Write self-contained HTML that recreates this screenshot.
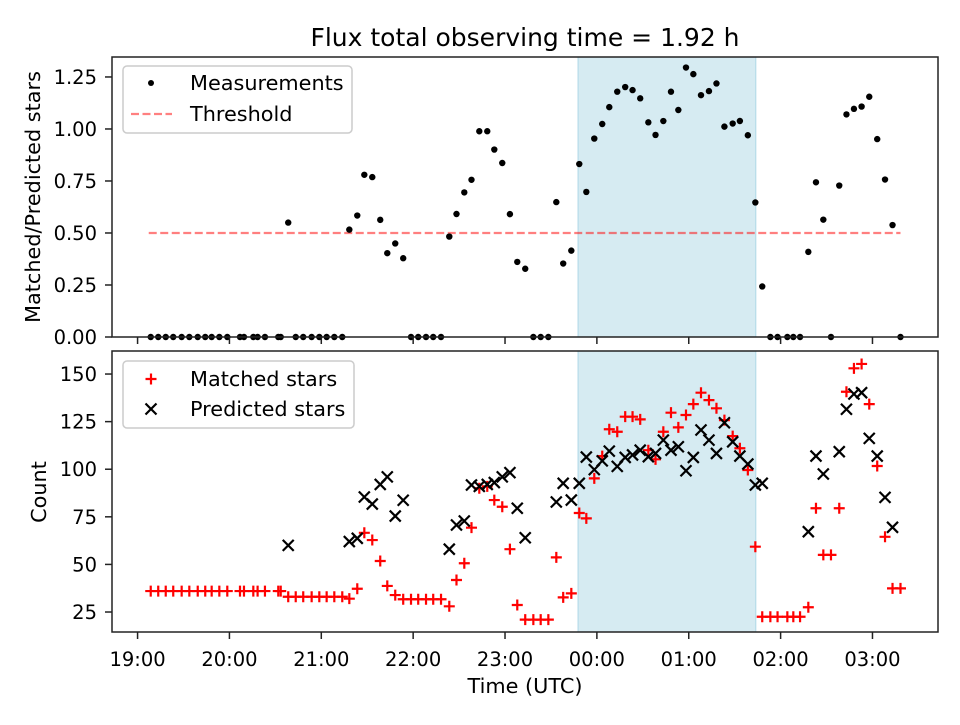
<!DOCTYPE html>
<html><head><meta charset="utf-8"><style>
body{margin:0;background:#fff}
svg text{font-family:"DejaVu Sans","Liberation Sans",sans-serif;fill:#000}
</style></head><body>
<svg id="c" width="960" height="720" xmlns="http://www.w3.org/2000/svg"></svg>
<script>
// minutes after 19:00
const times=[8.6,13.5,18.4,23.3,28.8,33.8,39.3,44.2,48.4,53.4,58.6,66.9,69.5,75.6,78.4,83.2,91.9,93.5,98.4,103.3,108.2,113.7,118.7,123.5,128.5,133.7,138.3,143.5,148.1,153.3,158.5,163.1,168.3,173.5,178.6,183.3,188.4,193.1,198.2,203.6,208.3,213.4,218.1,223.2,228.4,233,238.2,243.2,248,253.2,258.5,263.3,268.3,273.5,278,283.3,288.5,293.1,298.3,303.5,308.1,313.3,318.5,323.3,328.3,333.6,338.3,343.4,348.4,353.2,358.2,363,368,373.2,378.1,383.3,388.7,393.4,398.6,403.5,408,413.3,418,424.4,428.3,432.7,438.1,443.1,447.9,452.9,458.3,463,467.9,472.9,477.9,483.1,488.2,493.1,498.3];
const matched=[36,36,36,36,36,36,36,36,36,36,36,36,36,36,36,36,36,36,33,33,33,33,33,33,33,33,32,37.2,66.6,62.8,51.8,38.7,33.9,31.7,31.7,31.7,31.7,31.7,31.7,28,41.8,50.6,69.3,90,91,83.8,80.3,58,28.7,21,21,21,21,53.7,32.7,34.8,77,74.2,95.2,106.9,121,119.7,127.6,127.6,126.2,110,105.2,119.7,129.7,122,128.5,134.2,140.2,136.3,132,125.8,117.4,111,99.6,59.3,22.5,22.5,22.5,22.5,22.5,22.5,27.5,79.5,55,55,79.5,140.7,153,155.3,134.2,101.7,64.5,37.4,37.4];
const predicted=[null,null,null,null,null,null,null,null,null,null,null,null,null,null,null,null,null,null,60,null,null,null,null,null,null,null,62,63.7,85.4,81.7,92,96,75.4,83.7,null,null,null,null,null,58,70.7,72.8,91.7,91,92,93,96,98.2,79.5,64,null,null,null,82.8,92.6,83.8,92.6,106.4,99.8,104.4,109.5,101.5,106.2,107.5,110,106.6,108.3,115.3,110,111.8,99.2,106.2,120.6,115.3,108.3,124.4,114.4,106.9,102.7,91.7,92.6,null,null,null,null,null,67.2,106.9,97.5,null,109.2,131.5,139.5,140.2,116.2,106.9,85.2,69.5,null];
const xTickLabels=["19:00","20:00","21:00","22:00","23:00","00:00","01:00","02:00","03:00"];
const topTicks=[0,0.25,0.5,0.75,1.0,1.25];
const botTicks=[25,50,75,100,125,150];
const threshold=0.5;
const spanStart=287.7, spanEnd=403.8;

const NS="http://www.w3.org/2000/svg";
const svg=document.getElementById('c');
function el(tag,attrs,parent){const e=document.createElementNS(NS,tag);for(const k in attrs)e.setAttribute(k,attrs[k]);(parent||svg).appendChild(e);return e;}
const L=112,R=938;
const xmin=-16.7,xmax=522.8;
const X=m=>L+(m-xmin)/(xmax-xmin)*(R-L);
const T={top:57,bot:337,min:0,max:1.346};
const B={top:351,bot:632,min:14.5,max:162.1};
const Y=(a,v)=>a.bot-(v-a.min)/(a.max-a.min)*(a.bot-a.top);
const TF=19.5;

function axes(a,name){
  const g=el('g',{});
  
  
  const s=el('rect',{x:X(spanStart),y:a.top,width:X(spanEnd)-X(spanStart),height:a.bot-a.top,fill:'#add8e6','fill-opacity':0.5,stroke:'#add8e6','stroke-width':1},g);
  
  return g;
}
function frame(a,g,ticks,fmt,name){
  el('rect',{x:L,y:a.top,width:R-L,height:a.bot-a.top,fill:'none',stroke:'#222','stroke-width':1.5},g);
  xTickLabels.forEach((t,i)=>{const x=X(i*60);el('line',{x1:x,x2:x,y1:a.bot,y2:a.bot+7,stroke:'#222','stroke-width':1.5},g);});
  ticks.forEach(v=>{const y=Y(a,v);el('line',{x1:L-7,x2:L,y1:y,y2:y,stroke:'#222','stroke-width':1.5},g);
    const t=el('text',{x:L-15,y:y+7,'text-anchor':'end','font-size':TF},g);t.textContent=fmt(v);
    });
}
// TOP
const gt=axes(T,'ratio-axes');
const th=el('line',{x1:X(times[0])-2,x2:X(times[times.length-1]),y1:Y(T,threshold),y2:Y(T,threshold),stroke:'#ff0000','stroke-opacity':0.5,'stroke-width':2.2,'stroke-dasharray':'8,3.5'},gt);

times.forEach((m,i)=>{const r=predicted[i]?matched[i]/predicted[i]:0;
  const c=el('circle',{cx:X(m),cy:Y(T,r),r:3.2,fill:'#000'},gt);
  });
frame(T,gt,topTicks,v=>v.toFixed(2),'top-y');
// BOTTOM
const gb=axes(B,'count-axes');
times.forEach((m,i)=>{const x=X(m),y=Y(B,matched[i]);
  const p=el('path',{d:`M${x-5.5} ${y}H${x+5.5}M${x} ${y-5.5}V${y+5.5}`,stroke:'#ff0000','stroke-width':2.2},gb);
  });
times.forEach((m,i)=>{if(predicted[i]==null)return;const x=X(m),y=Y(B,predicted[i]);
  const p=el('path',{d:`M${x-5.5} ${y-5.5}L${x+5.5} ${y+5.5}M${x-5.5} ${y+5.5}L${x+5.5} ${y-5.5}`,stroke:'#000','stroke-width':2.2},gb);
  });
frame(B,gb,botTicks,v=>String(v),'bottom-y');
xTickLabels.forEach((t,i)=>{const e=el('text',{x:X(i*60),y:B.bot+34,'text-anchor':'middle','font-size':TF});e.textContent=t;
  });
</script>
<svg width="960" height="720" style="position:absolute;left:0;top:0" xmlns="http://www.w3.org/2000/svg">
<text x="525" y="46" text-anchor="middle" font-size="25">Flux total observing time = 1.92 h</text>
<text x="525" y="693" text-anchor="middle" font-size="20.8">Time (UTC)</text>
<text transform="translate(40,197) rotate(-90)" text-anchor="middle" font-size="20.8">Matched/Predicted stars</text>
<text transform="translate(46,492) rotate(-90)" text-anchor="middle" font-size="20.8">Count</text>
<g>
<rect x="123" y="66" width="229" height="67" rx="4" fill="#fff" fill-opacity="0.8" stroke="#ccc" stroke-width="1.5"/>
<circle cx="151" cy="83" r="3" fill="#000"/>
<text x="190" y="90" font-size="20.8">Measurements</text>
<line x1="131" x2="172" y1="114" y2="114" stroke="#ff8080" stroke-width="2.2" stroke-dasharray="8,3.5"/>
<text x="190" y="121" font-size="20.8">Threshold</text>
</g>
<g>
<rect x="123" y="361" width="231" height="67" rx="4" fill="#fff" fill-opacity="0.8" stroke="#ccc" stroke-width="1.5"/>
<path d="M145.5 379H156.5M151 373.5V384.5" stroke="#f00" stroke-width="2.2"/>
<text x="190" y="386" font-size="20.8">Matched stars</text>
<path d="M145.5 403.5L156.5 414.5M145.5 414.5L156.5 403.5" stroke="#000" stroke-width="2.2"/>
<text x="190" y="416" font-size="20.8">Predicted stars</text>
</g>
</svg>
</body></html>
